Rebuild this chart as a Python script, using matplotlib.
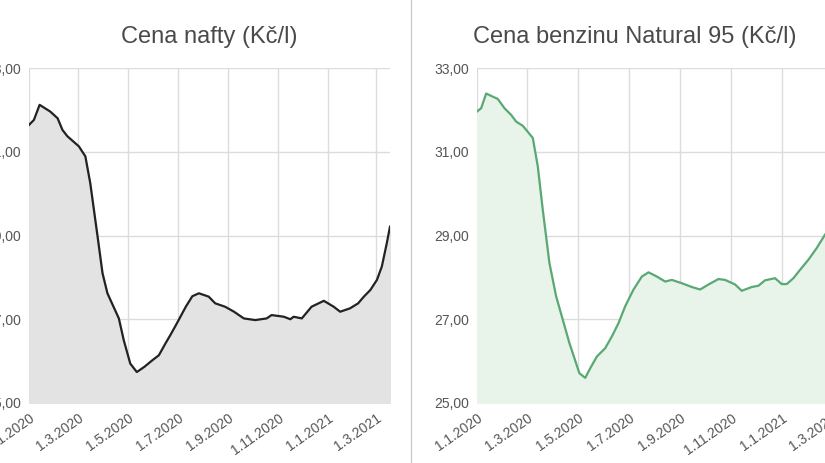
import matplotlib
matplotlib.use("Agg")
import matplotlib.pyplot as plt
import matplotlib.dates as mdates
from matplotlib.lines import Line2D
import pandas as pd

plt.rcParams['font.family'] = ['Liberation Sans', 'DejaVu Sans']

nafta_days = [0,6,13,26,35,41,47,61,69,75,84,90,96,110,116,124,132,141,151,159,167,173,181,192,200,208,220,228,240,251,263,277,291,297,312,320,324,334,346,361,373,381,393,403,410,418,426,432,438,442]
nafta_vals = [31.64,31.76,32.12,31.96,31.80,31.52,31.37,31.13,30.89,30.25,28.97,28.10,27.62,27.02,26.50,25.94,25.74,25.86,26.02,26.14,26.42,26.62,26.90,27.30,27.55,27.62,27.54,27.38,27.30,27.18,27.02,26.98,27.02,27.10,27.06,27.00,27.06,27.02,27.30,27.44,27.30,27.18,27.26,27.38,27.54,27.70,27.94,28.26,28.81,29.21]

benzin_days = [0,5,11,25,33,41,47,55,67,73,79,87,95,103,111,123,130,136,144,154,162,170,178,188,198,206,216,226,234,246,258,268,278,290,298,310,318,330,338,346,358,366,372,380,388,398,408,418,430,442]
benzin_vals = [31.96,32.04,32.39,32.26,32.04,31.88,31.72,31.62,31.33,30.65,29.61,28.34,27.55,26.99,26.43,25.71,25.60,25.83,26.11,26.31,26.59,26.91,27.31,27.71,28.02,28.12,28.02,27.90,27.94,27.86,27.77,27.71,27.83,27.96,27.94,27.83,27.68,27.77,27.80,27.93,27.98,27.84,27.84,27.98,28.18,28.42,28.70,29.02,29.35,29.70]

start = pd.Timestamp("2020-01-01")
nafta_dates = start + pd.to_timedelta(nafta_days, unit="D")
benzin_dates = start + pd.to_timedelta(benzin_days, unit="D")

tick_dates = pd.to_datetime(["2020-01-01","2020-03-01","2020-05-01","2020-07-01","2020-09-01","2020-11-01","2021-01-01","2021-03-01"])
tick_labels = ["1.1.2020","1.3.2020","1.5.2020","1.7.2020","1.9.2020","1.11.2020","1.1.2021","1.3.2021"]
y_ticks = [25, 27, 29, 31, 33]
y_labels = ["25,00", "27,00", "29,00", "31,00", "33,00"]

fig = plt.figure(figsize=(8.25, 4.63), dpi=100)
ax1 = fig.add_axes([29/825, 60/463, 361/825, 335/463])
ax2 = fig.add_axes([477/825, 60/463, 368/825, 335/463])

def style(ax, title):
    ax.set_xlim(start, start + pd.Timedelta(days=442))
    ax.set_ylim(25, 33)
    ax.set_yticks(y_ticks)
    ax.set_yticklabels(y_labels)
    ax.set_xticks(tick_dates)
    ax.set_xticklabels(tick_labels, rotation=35, ha="right", rotation_mode="anchor")
    ax.tick_params(length=0, labelsize=10, colors="#555555", pad=6)
    ax.grid(True, color="#dcdcdc", linewidth=1)
    ax.set_axisbelow(True)
    for s in ax.spines.values():
        s.set_visible(False)
    ax.set_title(title, fontsize=17, color="#4a4a4a", pad=18)

ax1.fill_between(nafta_dates, nafta_vals, 25, color="#e3e3e3", zorder=2)
ax1.plot(nafta_dates, nafta_vals, color="#222222", linewidth=1.6, zorder=3)
style(ax1, "Cena nafty (Kč/l)")

ax2.fill_between(benzin_dates, benzin_vals, 25, color="#e8f4ea", zorder=2)
ax2.plot(benzin_dates, benzin_vals, color="#5aa874", linewidth=1.6, zorder=3)
style(ax2, "Cena benzinu Natural 95 (Kč/l)")
ax2.title.set_position((0.43, 1.0))

fig.add_artist(Line2D([411/825, 411/825], [0, 1], color="#cccccc", linewidth=1))

fig.savefig("out.png", dpi=100)
